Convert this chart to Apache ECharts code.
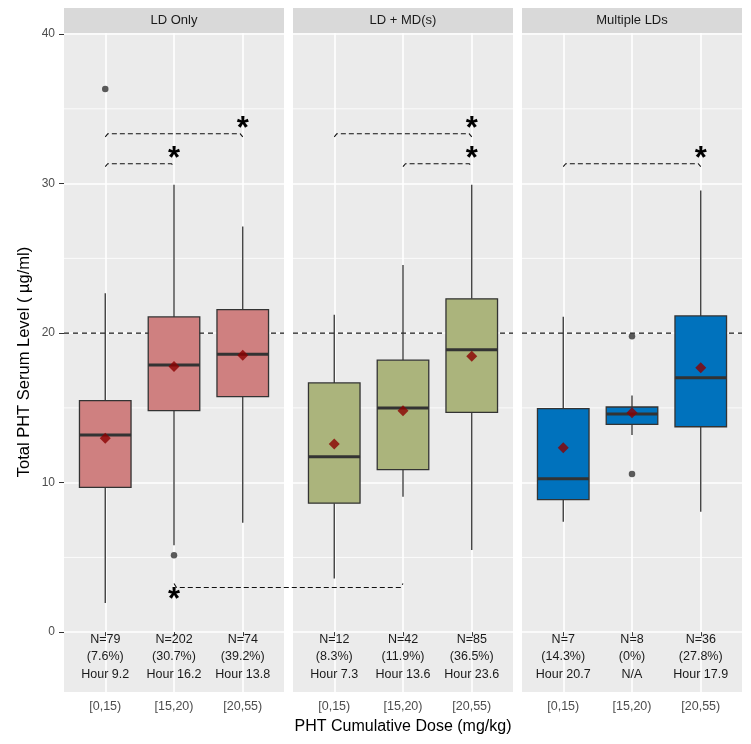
<!DOCTYPE html>
<html><head><meta charset="utf-8">
<script src="https://cdn.jsdelivr.net/npm/echarts@6/dist/echarts.min.js"></script>
<style>html,body{margin:0;padding:0;background:#fff}#c{width:751px;height:744px}</style>
</head><body><div id="c"></div>
<script>
// ---------------- data ----------------
const panels = ['LD Only', 'LD + MD(s)', 'Multiple LDs'];
const doseCats = ['[0,15)', '[15,20)', '[20,55)'];
const yTicks = [0, 10, 20, 30, 40];
const yMinor = [5, 15, 25, 35];
const refLevel = 20;

// [lower whisker, Q1, median, Q3, upper whisker]
const boxLD    = [[1.96, 9.69, 13.19, 15.48, 22.67], [5.82, 14.81, 17.87, 21.08, 29.92], [7.32, 15.75, 18.59, 21.57, 27.13]];
const boxLDMD  = [[3.59, 8.63, 11.73, 16.67, 21.22], [9.06, 10.87, 14.99, 18.19, 24.56], [5.49, 14.70, 18.88, 22.29, 29.92]];
const boxMulti = [[7.38, 8.86, 10.26, 14.95, 21.10], [13.19, 13.90, 14.59, 15.06, 15.82], [8.05, 13.74, 17.02, 21.15, 29.54]];
const meanLD    = [12.97, 17.76, 18.52];
const meanLDMD  = [12.58, 14.81, 18.45];
const meanMulti = [12.34, 14.68, 17.69];
// outliers: [dose index, value]
const outLD    = [[0, 36.33], [1, 5.15]];
const outLDMD  = [];
const outMulti = [[1, 19.79], [1, 10.58]];
const nLD = [79, 202, 74], nLDMD = [12, 42, 85], nMulti = [7, 8, 36];
const pctLD = [7.6, 30.7, 39.2], pctLDMD = [8.3, 11.9, 36.5], pctMulti = [14.3, 0, 27.8];
const hourLD = [9.2, 16.2, 13.8], hourLDMD = [7.3, 13.6, 23.6], hourMulti = [20.7, null, 17.9];
// significance brackets: [from dose index, to dose index, y]
const sigLD    = [[0, 1, 31.33], [0, 2, 33.33]];
const sigLDMD  = [[0, 2, 33.33], [1, 2, 31.33]];
const sigMulti = [[0, 2, 31.33]];
// cross-panel bracket: LD Only [15,20) vs LD + MD(s) [15,20)
const sigCross = { fromPanel: 0, fromDose: 1, toPanel: 1, toDose: 1, y: 2.99 };

// ---------------- style / layout ----------------
const FONT = '"Liberation Sans", Arial, Helvetica, sans-serif';
const fills = ['#CF8080', '#ABB47C', '#0072BD'];
const gridLeft = [64, 293, 522], gridWidth = 220, gridTop = 33, gridHeight = 659;
const annotY = -1.57;      // centre of the 3-line annotation block (data units)
const starLift = 0.73;     // star above bracket (data units)

const boxes = [boxLD, boxLDMD, boxMulti];
const means = [meanLD, meanLDMD, meanMulti];
const outs = [outLD, outLDMD, outMulti];
const ns = [nLD, nLDMD, nMulti];
const pcts = [pctLD, pctLDMD, pctMulti];
const hours = [hourLD, hourLDMD, hourMulti];
const sigs = [sigLD, sigLDMD, sigMulti];

const chart = echarts.init(document.getElementById('c'), null, { renderer: 'canvas' });

function hLineSeries(i, values, stroke, width, dash, z) {
  return {
    type: 'custom', xAxisIndex: i, yAxisIndex: i, z: z, silent: true, clip: false,
    data: values.map(v => [2, v]),
    renderItem(params, api) {
      const cs = params.coordSys;
      const y = api.coord([2, api.value(1)])[1];
      return { type: 'line', shape: { x1: cs.x, y1: y, x2: cs.x + cs.width, y2: y },
        style: { stroke: stroke, lineWidth: width, lineDash: dash } };
    }
  };
}

const series = [];
panels.forEach((p, i) => {
  series.push(hLineSeries(i, yMinor, '#FFFFFF', 0.8, null, 1));
  series.push(hLineSeries(i, [refLevel], '#1A1A1A', 1.1, [5, 4], 2));
  series.push({
    type: 'custom', xAxisIndex: i, yAxisIndex: i, z: 3, silent: true,
    data: boxes[i].map((b, j) => [j + 1].concat(b)),
    renderItem(params, api) {
      const x = api.value(0);
      const lo = api.coord([x, api.value(1)]), q1 = api.coord([x, api.value(2)]),
            md = api.coord([x, api.value(3)]), q3 = api.coord([x, api.value(4)]),
            hi = api.coord([x, api.value(5)]);
      const hw = api.size([0.75, 0])[0] / 2;
      const st = { stroke: '#333333', lineWidth: 1.3 };
      return { type: 'group', children: [
        { type: 'line', shape: { x1: hi[0], y1: hi[1], x2: q3[0], y2: q3[1] }, style: st },
        { type: 'line', shape: { x1: q1[0], y1: q1[1], x2: lo[0], y2: lo[1] }, style: st },
        { type: 'rect', shape: { x: q3[0] - hw, y: q3[1], width: 2 * hw, height: q1[1] - q3[1] },
          style: { fill: fills[i], stroke: '#333333', lineWidth: 1.3 } },
        { type: 'line', shape: { x1: md[0] - hw, y1: md[1], x2: md[0] + hw, y2: md[1] },
          style: { stroke: '#333333', lineWidth: 3 } }
      ] };
    }
  });
  series.push({
    type: 'scatter', xAxisIndex: i, yAxisIndex: i, z: 4, silent: true,
    symbol: 'circle', symbolSize: 6.5, itemStyle: { color: '#333333' },
    data: outs[i].map(o => [o[0] + 1, o[1]])
  });
  series.push({
    type: 'scatter', xAxisIndex: i, yAxisIndex: i, z: 5, silent: true,
    symbol: 'diamond', symbolSize: 11, itemStyle: { color: '#8B0000' },
    data: means[i].map((m, j) => [j + 1, m])
  });
  series.push({
    type: 'custom', xAxisIndex: i, yAxisIndex: i, z: 6, silent: true, clip: false,
    data: doseCats.map((c, j) => [j + 1, annotY]),
    renderItem(params, api) {
      const j = params.dataIndex;
      const pt = api.coord([api.value(0), api.value(1)]);
      const h = hours[i][j];
      const txt = 'N=' + ns[i][j] + '\n(' + pcts[i][j] + '%)\n' + (h === null ? 'N/A' : 'Hour ' + h);
      return { type: 'text', x: pt[0], y: pt[1] + 1,
        style: { text: txt, align: 'center', verticalAlign: 'middle', textAlign: 'center', textVerticalAlign: 'middle',
          fontSize: 12.5, lineHeight: 17.5, fontFamily: FONT, fill: '#1A1A1A' } };
    }
  });
  series.push({
    type: 'custom', xAxisIndex: i, yAxisIndex: i, z: 6, silent: true, clip: false,
    data: sigs[i].map(s => [s[0] + 1, s[1] + 1, s[2]]),
    renderItem(params, api) {
      const a = api.coord([api.value(0), api.value(2)]);
      const b = api.coord([api.value(1), api.value(2)]);
      const s = api.coord([api.value(1), api.value(2) + starLift]);
      const tip = 3, tx = 2.5;
      return { type: 'group', children: [
        { type: 'polyline', shape: { points: [[a[0], a[1] + tip], [a[0] + tx, a[1]], [b[0] - tx, b[1]], [b[0], b[1] + tip]] },
          style: { stroke: '#111', lineWidth: 1.1, lineDash: [5, 3], fill: null } },
        { type: 'text', x: s[0], y: s[1] + 6.5,
          style: { text: '*', align: 'center', verticalAlign: 'middle', textAlign: 'center', textVerticalAlign: 'middle',
            fontSize: 31, fontWeight: 'bold', fontFamily: FONT, fill: '#000' } }
      ] };
    }
  });
});

const graphics = [];
panels.forEach((p, i) => {
  graphics.push({ type: 'rect', id: 'strip' + i, shape: { x: gridLeft[i], y: 8, width: gridWidth, height: 25 },
    style: { fill: '#D9D9D9' }, silent: true });
  graphics.push({ type: 'text', id: 'stripT' + i, x: gridLeft[i] + gridWidth / 2, y: 20.5,
    style: { text: p, textAlign: 'center', textVerticalAlign: 'middle', align: 'center', verticalAlign: 'middle',
      fontSize: 13, fontFamily: FONT, fill: '#1A1A1A' }, silent: true });
});
graphics.push({ type: 'text', id: 'ytitle', x: 24, y: 362, rotation: Math.PI / 2,
  style: { text: 'Total PHT Serum Level ( \u00B5g/ml)', textAlign: 'center', textVerticalAlign: 'middle',
    align: 'center', verticalAlign: 'middle', fontSize: 16.5, fontFamily: FONT, fill: '#000' }, silent: true });

const option = {
  animation: false,
  backgroundColor: '#FFFFFF',
  textStyle: { fontFamily: FONT },
  grid: panels.map((p, i) => ({ left: gridLeft[i], top: gridTop, width: gridWidth, height: gridHeight,
    show: true, backgroundColor: '#EBEBEB', borderWidth: 0, containLabel: false })),
  xAxis: panels.map((p, i) => ({
    type: 'value', gridIndex: i, min: 0.4, max: 3.6,
    name: i === 1 ? 'PHT Cumulative Dose (mg/kg)' : '',
    nameLocation: 'middle', nameGap: 27,
    nameTextStyle: { fontSize: 16, color: '#000', fontFamily: FONT },
    axisLine: { show: false },
    axisTick: { show: true, customValues: [1, 2, 3], length: 4, lineStyle: { color: '#333333', width: 1 } },
    axisLabel: { customValues: [1, 2, 3], formatter: v => doseCats[Math.round(v) - 1], color: '#4D4D4D', fontSize: 12.5, margin: 8, fontFamily: FONT },
    splitLine: { show: true, lineStyle: { color: '#FFFFFF', width: 1.6 } }
  })),
  yAxis: panels.map((p, i) => ({
    type: 'value', gridIndex: i, min: -4, max: 40.07,
    axisLine: { show: false },
    axisTick: { show: i === 0, customValues: yTicks, length: 5, lineStyle: { color: '#333333', width: 1 } },
    axisLabel: { show: i === 0, customValues: yTicks, color: '#4D4D4D', fontSize: 12, margin: 9, fontFamily: FONT },
    splitLine: { show: true, lineStyle: { color: '#FFFFFF', width: 1.6 } }
  })),
  series: series,
  graphic: graphics
};
chart.setOption(option);

// cross-panel bracket, positioned through both panels' scales
const c1 = chart.convertToPixel({ gridIndex: sigCross.fromPanel }, [sigCross.fromDose + 1, sigCross.y]);
const c2 = chart.convertToPixel({ gridIndex: sigCross.toPanel }, [sigCross.toDose + 1, sigCross.y]);
const cs = chart.convertToPixel({ gridIndex: sigCross.fromPanel }, [sigCross.fromDose + 1, sigCross.y - 0.4]);
chart.setOption({ graphic: [
  { type: 'polyline', id: 'cross', z: 10, silent: true,
    shape: { points: [[c1[0], c1[1] - 4], [c1[0] + 2.5, c1[1]], [c2[0] - 2.5, c2[1]], [c2[0], c2[1] - 4]] },
    style: { stroke: '#111', lineWidth: 1.1, lineDash: [5, 3], fill: null } },
  { type: 'text', id: 'crossStar', z: 10, x: cs[0], y: cs[1] + 6.5, silent: true,
    style: { text: '*', textAlign: 'center', textVerticalAlign: 'middle', align: 'center', verticalAlign: 'middle',
      fontSize: 31, fontWeight: 'bold', fontFamily: FONT, fill: '#000' } }
] });
</script></body></html>
